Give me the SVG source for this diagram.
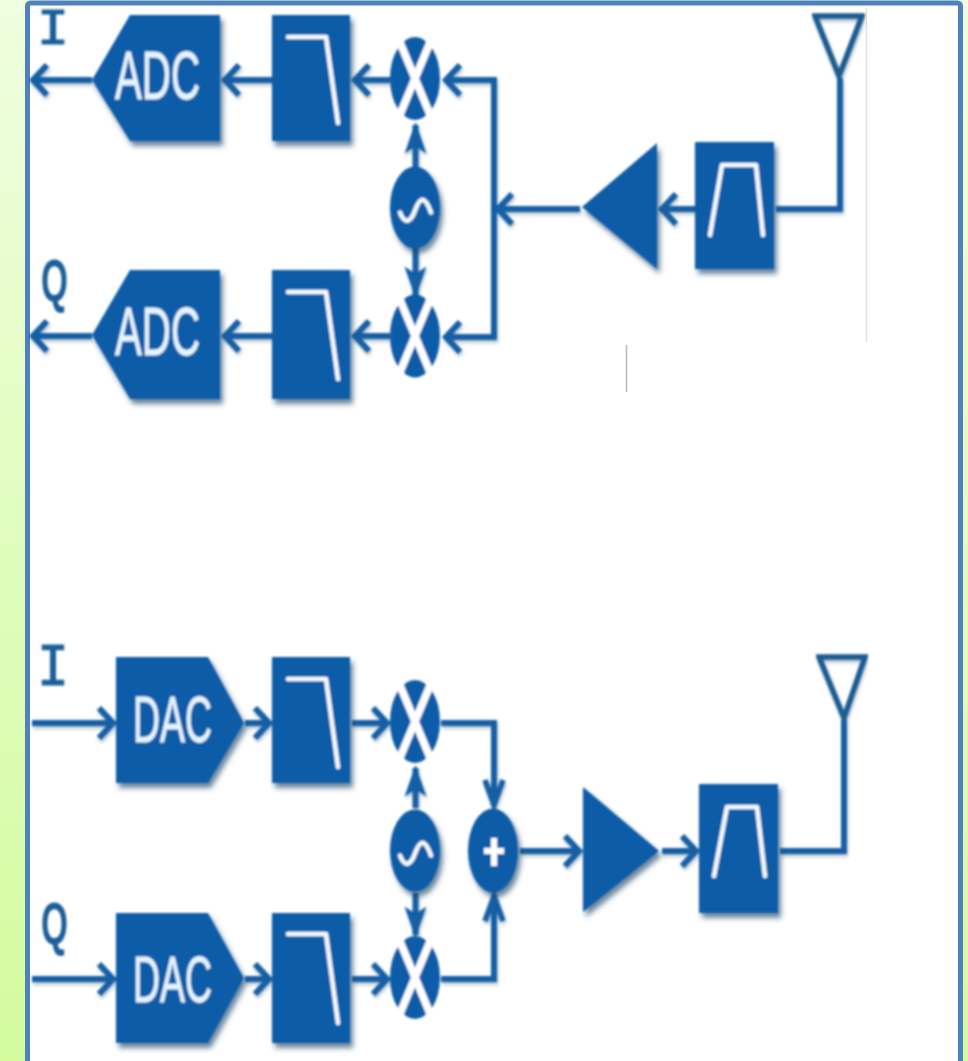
<svg xmlns="http://www.w3.org/2000/svg" width="968" height="1061" viewBox="0 0 968 1061">
<style>
.b{fill:#0c5ca8}
.g{fill:none;stroke:#f4faff;stroke-width:4.500;stroke-linejoin:round;stroke-linecap:round}
.x{stroke:#fff;stroke-width:7.500;fill:none}
.t{font-family:"Liberation Sans",Arial,sans-serif;font-size:68px;fill:#e6f4ff;stroke:#e6f4ff;stroke-width:.8}
.d{font-size:65px}
.l{fill:#1a5f98}
.i{font-family:"Liberation Mono",monospace;stroke:#1a5f98;stroke-width:1.200}
.q{font-family:"Liberation Sans",Arial,sans-serif;font-weight:bold;font-size:60px}
.c{fill:none;stroke:#125fa5;stroke-width:6;stroke-linejoin:miter}
.ant{fill:none;stroke:#1a5c92;stroke-width:5.500;stroke-linejoin:miter}
.ar{marker-end:url(#a)}
.arn{marker-end:url(#n)}
.arf{marker-end:url(#f)}
</style>
<defs>
<linearGradient id="bg" x1="0" y1="0" x2="0" y2="1"><stop offset="0" stop-color="#effedf"/><stop offset="1" stop-color="#d3fb9e"/></linearGradient>
<filter id="s" x="-15%" y="-15%" width="135%" height="135%"><feDropShadow dx="3" dy="5" stdDeviation="2.500" flood-color="#1d4468" flood-opacity=".65"/></filter>
<filter id="ls" x="-5%" y="-5%" width="110%" height="110%"><feDropShadow dx="1" dy="2.500" stdDeviation="1.500" flood-color="#1d4468" flood-opacity=".35"/></filter>
<filter id="soft" x="-2%" y="-2%" width="104%" height="104%"><feGaussianBlur stdDeviation="0.8"/></filter>
<marker id="a" viewBox="-24 -24 48 48" refX="0" refY="0" markerWidth="48" markerHeight="48" markerUnits="userSpaceOnUse" orient="auto"><path d="M-15,-15 L-1,0 L-15,15" fill="none" stroke="#125fa5" stroke-width="6"/></marker>
<marker id="n" viewBox="-34 -24 48 48" refX="0" refY="0" markerWidth="48" markerHeight="48" markerUnits="userSpaceOnUse" orient="auto"><path d="M-26,-9 L-1,0 L-26,9" fill="none" stroke="#125fa5" stroke-width="5.500"/></marker>
<marker id="f" viewBox="-34 -24 48 48" refX="0" refY="0" markerWidth="48" markerHeight="48" markerUnits="userSpaceOnUse" orient="auto"><path d="M-26,-9 L0,0 L-26,9 L-20,0Z" fill="#125fa5" stroke="#125fa5" stroke-width="2"/></marker>
<g id="mix"><ellipse class="b" rx="25" ry="41.500"/><path class="x" d="M-20,-48 L20,48 M20,-48 L-20,48"/></g>
<g id="osc"><ellipse class="b" rx="25" ry="41" filter="url(#s)"/><path class="g" d="M-15,5 C-10,18 -4,14 0,3 C4,-8 9,-15 16,5"/></g>
</defs>
<rect width="968" height="1061" fill="url(#bg)"/>
<rect x="27.500" y="3" width="933" height="1100" rx="3" fill="#fff" stroke="#4f81bd" stroke-width="5"/>
<path d="M866.500,8V342" stroke="#e2e2dc" stroke-width="1.500" fill="none"/>
<path d="M626.500,345V392" stroke="#b9b9b4" stroke-width="1.500" fill="none"/>
<g filter="url(#soft)">
<g id="connectors" filter="url(#ls)">
<path class="c ar" d="M92,80H32"/><path class="c ar" d="M272,80H224"/><path class="c ar" d="M390,80H354"/>
<path class="c ar" d="M494,80H445"/><path class="c" d="M494,77V340"/><path class="c ar" d="M497,337H445"/>
<path class="c ar" d="M92,336H32"/><path class="c ar" d="M272,336H224"/><path class="c ar" d="M390,336H354"/>
<path class="c ar" d="M580,209H497"/><path class="c ar" d="M695,209H661"/>
<path class="c" d="M776,209H840V78"/>
<path class="c arf" d="M415.500,167V125"/><path class="c arf" d="M415.500,248V295"/>
<path class="c ar" d="M32,723H114"/><path class="c ar" d="M245,723H270"/><path class="c ar" d="M352,723H388"/>
<path class="c ar" d="M32,979H114"/><path class="c ar" d="M245,979H270"/><path class="c ar" d="M352,979H388"/>
<path class="c arn" d="M441,723H494V806"/><path class="c arn" d="M441,979H494V895"/>
<path class="c arf" d="M415.500,808V768"/><path class="c arf" d="M415.500,893V935"/>
<path class="c ar" d="M520,851H580"/><path class="c ar" d="M662,851H697"/>
<path class="c" d="M780,851H844V720"/>
</g>
<g id="label-i-rx"><text x="37" y="44" class="l i" font-size="52" textLength="32" lengthAdjust="spacingAndGlyphs">I</text></g>
<g id="label-q-rx"><text x="41" y="301" class="l q" textLength="27" lengthAdjust="spacingAndGlyphs">Q</text></g>
<g id="adc-i"><path class="b" filter="url(#s)" d="M92,80L130,15H220V141H130Z"/><text class="t" x="115" y="99" textLength="85" lengthAdjust="spacingAndGlyphs">ADC</text></g>
<g id="adc-q"><path class="b" filter="url(#s)" d="M92,335L130,270H220V399H130Z"/><text class="t" x="115" y="355" textLength="85" lengthAdjust="spacingAndGlyphs">ADC</text></g>
<g id="lpf-rx-i"><rect class="b" filter="url(#s)" x="272" y="15" width="78" height="126"/><path class="g" d="M288,37H326L338,123"/></g>
<g id="lpf-rx-q"><rect class="b" filter="url(#s)" x="272" y="270" width="78" height="129"/><path class="g" d="M288,292H326L338,379"/></g>
<g id="mixer-rx-i"><use href="#mix" x="415" y="78.500"/></g>
<g id="mixer-rx-q"><use href="#mix" x="415" y="336"/></g>
<g id="lo-rx"><use href="#osc" x="415" y="207.500"/></g>
<g id="amp-rx"><path class="b" filter="url(#s)" d="M582,207L657,143V269Z"/></g>
<g id="bpf-rx"><rect class="b" filter="url(#s)" x="695" y="142" width="79" height="127"/><path class="g" d="M710,235L722,165H756L763,235"/></g>
<g id="antenna-rx"><path class="ant" filter="url(#ls)" d="M815,16H862L839,76Z"/></g>
<g id="label-i-tx"><text x="37" y="685" class="l i" font-size="62" textLength="32" lengthAdjust="spacingAndGlyphs">I</text></g>
<g id="label-q-tx"><text x="41" y="944" class="l q" textLength="27" lengthAdjust="spacingAndGlyphs">Q</text></g>
<g id="dac-i"><path class="b" filter="url(#s)" d="M116,657H208L244,723L208,783H116Z"/><text class="t d" x="133" y="742" textLength="79" lengthAdjust="spacingAndGlyphs">DAC</text></g>
<g id="dac-q"><path class="b" filter="url(#s)" d="M116,913H208L244,978L208,1043H116Z"/><text class="t d" x="133" y="1002" textLength="79" lengthAdjust="spacingAndGlyphs">DAC</text></g>
<g id="lpf-tx-i"><rect class="b" filter="url(#s)" x="272" y="657" width="78" height="126"/><path class="g" d="M288,679H326L338,767"/></g>
<g id="lpf-tx-q"><rect class="b" filter="url(#s)" x="272" y="913" width="78" height="130"/><path class="g" d="M288,934H326L338,1023"/></g>
<g id="mixer-tx-i"><use href="#mix" x="415" y="721.500"/></g>
<g id="mixer-tx-q"><use href="#mix" x="415" y="977.500"/></g>
<g id="lo-tx"><use href="#osc" x="415" y="850.500"/></g>
<g id="sum"><ellipse class="b" filter="url(#s)" cx="493" cy="850.500" rx="25" ry="42"/><path d="M484,851H504M494,838V866" stroke="#fff" stroke-width="6" fill="none"/></g>
<g id="amp-tx"><path class="b" filter="url(#s)" d="M583,787L659,851L583,912Z"/></g>
<g id="bpf-tx"><rect class="b" filter="url(#s)" x="699" y="784" width="79" height="129"/><path class="g" d="M714,876L727,807H757L765,876"/></g>
<g id="antenna-tx"><path class="ant" filter="url(#ls)" d="M819,657H865L844,718Z"/></g>
</g>
</svg>
